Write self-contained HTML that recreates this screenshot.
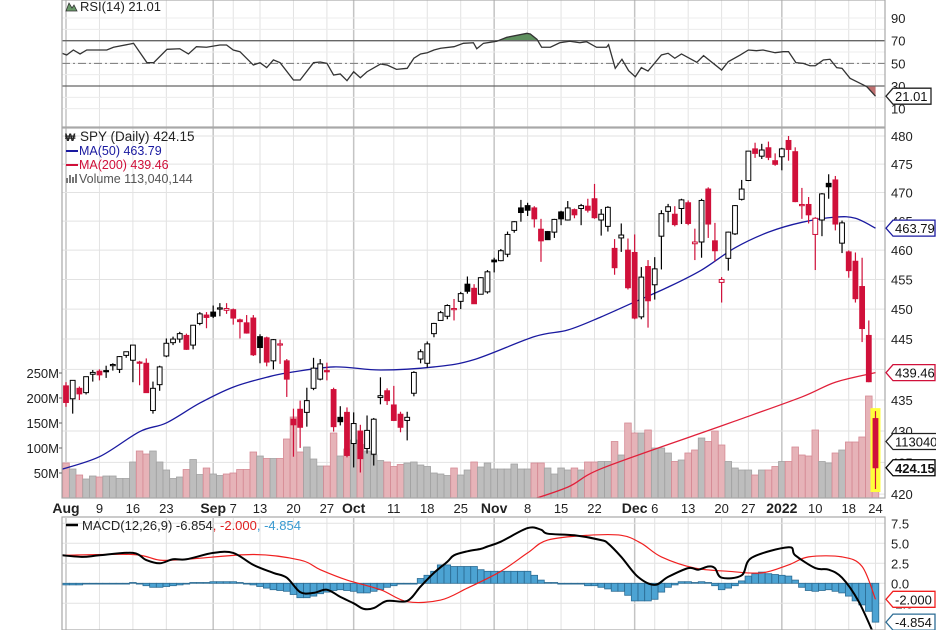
<!DOCTYPE html>
<html><head><meta charset="utf-8"><style>
html,body{margin:0;padding:0;background:#fff;}
svg{display:block;font-family:"Liberation Sans",sans-serif;}
</style></head><body>
<svg id="chart" width="936" height="630" viewBox="0 0 936 630" xmlns="http://www.w3.org/2000/svg">
<defs>
<clipPath id="clipMain"><rect x="62" y="128" width="823" height="370"/></clipPath>
<clipPath id="clipMacd"><rect x="62" y="518" width="823" height="112"/></clipPath>
<clipPath id="clipRsi"><rect x="62" y="0" width="823" height="127"/></clipPath>
<clipPath id="clipOB"><rect x="62" y="0" width="823" height="40.7"/></clipPath>
<clipPath id="clipOS"><rect x="62" y="86" width="823" height="41"/></clipPath>
</defs>
<g id="grid"></g>
<g id="vol" clip-path="url(#clipMain)"></g>
<g id="ma" clip-path="url(#clipMain)"></g>
<g id="candles" clip-path="url(#clipMain)"></g>
<g id="rsi"></g>
<g id="macd"></g>
<g id="axes"></g>
<g id="tags"></g>
<g id="legend">
<text x="80" y="11" font-size="13" fill="#222">RSI(14) 21.01</text>
<path d="M66 11 L69 3 L72 8 L74 5 L77 11 Z" fill="#6a9a6a" stroke="#333" stroke-width="0.8"/>
<text x="80" y="141" font-size="13.5" fill="#222">SPY (Daily) 424.15</text>
<text x="65" y="141" font-size="11" font-weight="bold" fill="#222">₩</text>
<line x1="66" y1="151" x2="78" y2="151" stroke="#1a1aa0" stroke-width="2"/>
<text x="79" y="155" font-size="12.5" fill="#1a1aa0">MA(50) 463.79</text>
<line x1="66" y1="165" x2="78" y2="165" stroke="#d0103a" stroke-width="2"/>
<text x="79" y="169" font-size="12.5" fill="#d0103a">MA(200) 439.46</text>
<text x="79" y="183" font-size="12.5" fill="#555">Volume 113,040,144</text>
<path d="M66 183 v-5 h2 v5 M69 183 v-8 h2 v8 M72 183 v-6 h2 v6 M75 183 v-9 h2 v9" fill="#777"/>
<line x1="66" y1="525" x2="78" y2="525" stroke="#000" stroke-width="2.5"/>
<text x="82" y="530" font-size="13" fill="#222">MACD(12,26,9) -6.854<tspan fill="#e02020">, -2.000</tspan><tspan fill="#3a9ad0">, -4.854</tspan></text>
</g>
</svg>
<script>
// ---------- DATA ----------
const opens=[437.3,435.2,436.9,436.2,439.2,439.7,439.8,440.8,440.0,442.3,441.5,441.2,441.0,433.3,437.5,442.2,444.4,445.0,445.6,444.0,447.6,449.0,449.5,450.2,449.8,449.9,448.2,447.7,448.5,445.4,445.2,441.4,444.2,441.4,431.9,433.5,433.0,436.9,438.4,439.8,436.7,432.2,433.0,428.0,430.0,427.2,426.3,435.4,436.5,434.2,432.7,431.7,436.1,441.7,441.0,445.9,448.1,448.8,450.1,451.3,454.2,453.5,452.5,452.9,458.3,458.2,459.3,463.4,467.3,467.7,467.3,463.6,463.2,463.1,466.6,465.2,467.0,467.2,467.6,468.9,465.2,464.1,460.3,462.1,460.0,459.6,448.7,457.2,454.1,462.4,466.7,466.2,467.2,468.2,461.1,461.4,470.6,461.6,454.5,458.6,462.8,468.8,472.1,477.7,476.4,477.9,475.6,476.3,479.2,477.2,467.9,467.9,462.7,465.2,471.6,472.2,461.2,459.7,458.1,453.8,445.6,432.0];
const highs=[437.9,438.2,437.2,438.8,439.9,440.0,440.6,441.0,442.2,442.9,444.0,441.4,441.8,438.0,440.6,445.1,445.4,446.2,445.9,447.3,449.5,449.5,450.6,451.0,451.0,450.1,448.4,449.0,449.0,445.8,445.4,445.0,444.9,441.7,433.6,434.9,437.0,441.9,441.7,441.1,437.0,434.0,433.8,433.0,431.0,432.5,432.1,438.7,436.9,437.3,433.1,433.1,439.7,443.3,444.6,447.7,449.7,450.8,451.7,452.9,455.5,454.2,455.4,456.6,458.7,460.2,463.2,465.0,468.7,468.2,467.6,465.4,463.3,465.4,466.8,468.5,467.2,468.0,468.9,471.5,467.1,467.6,461.9,464.6,462.0,462.7,457.1,458.3,458.8,466.9,468.0,467.6,468.9,468.6,463.7,468.9,470.9,464.7,455.4,463.2,467.8,472.2,477.3,478.8,478.6,479.0,476.9,477.9,480.0,477.98,470.8,469.2,465.7,469.9,473.2,472.9,465.1,459.96,459.6,458.7,448.1,433.2];
const lows=[433.9,432.8,435.0,435.9,438.0,438.2,438.6,439.8,439.4,441.9,437.9,437.4,436.2,432.8,436.5,442.0,444.0,444.4,443.2,443.3,447.3,446.8,448.5,448.8,449.2,447.4,445.1,445.9,442.2,441.0,440.5,440.0,440.9,435.5,425.9,427.3,430.7,436.6,438.2,438.2,429.9,430.9,425.8,424.2,423.4,426.4,424.5,434.3,434.2,431.6,429.8,428.5,435.6,441.0,440.3,445.3,448.1,448.3,448.1,450.0,452.6,450.9,452.5,452.6,456.2,458.1,458.8,463.0,464.9,465.9,463.9,458.0,461.8,462.1,464.3,465.1,465.5,464.3,466.5,465.4,462.5,463.2,455.8,459.7,453.3,448.3,448.3,446.9,451.6,456.7,464.8,464.1,464.5,464.3,458.3,458.7,462.1,458.1,451.1,456.5,462.6,468.6,472.0,476.1,475.9,475.7,474.7,473.9,475.6,468.3,465.4,464.6,456.6,462.4,468.9,463.4,459.5,455.3,451.1,444.5,437.9,420.8];
const closes=[434.6,438.2,436.0,438.8,439.5,439.1,439.7,440.8,442.1,442.9,444.0,441.0,436.2,436.9,440.4,444.3,445.0,445.9,443.3,447.3,449.2,448.6,448.8,450.2,450.1,448.5,447.9,446.0,442.4,443.6,441.2,444.9,444.2,438.4,431.0,430.6,434.9,440.2,440.9,439.6,430.7,431.5,426.1,431.2,425.6,430.1,431.9,435.7,434.9,431.7,430.6,432.2,439.5,442.9,444.2,447.6,449.4,450.6,450.1,452.6,453.0,450.9,455.3,456.3,458.0,459.9,462.7,464.9,466.5,466.9,465.4,461.6,461.8,465.3,465.4,467.3,466.1,467.7,466.9,465.6,466.2,467.4,457.0,462.6,453.6,448.5,455.4,451.4,456.8,466.3,467.5,464.4,468.7,464.6,461.4,468.6,464.5,459.9,455.0,463.1,467.7,470.6,477.3,476.9,477.5,476.2,474.96,477.7,477.6,468.4,467.9,466.1,465.5,469.75,471.0,464.5,464.7,456.5,451.75,446.75,437.98,424.15];
const volumes=[70,58,46,38,44,42,44,44,39,39,72,94,88,94,72,56,39,42,57,77,47,60,48,45,48,50,57,57,92,84,79,79,79,118,162,92,102,78,64,64,130,84,98,116,107,94,86,75,72,63,67,70,72,66,63,50,48,45,60,46,56,72,62,70,58,58,58,68,58,58,70,70,60,48,60,56,60,56,72,72,73,73,113,86,150,130,130,136,100,100,90,73,76,90,96,120,113,134,106,73,60,56,56,46,56,56,63,73,73,102,86,84,136,73,70,90,96,112,112,122,204,113];
const ma50Idx=[-1,5,11,15,20,25,30,33,40,47,55,61,70,75,80,85,90,95,100,105,110,115,118,121];
const ma50Val=[423.8,425.9,429.9,431.3,434.5,437.1,438.7,439.4,440.4,439.9,440.4,441.6,445.4,446.5,448.7,451.2,453.7,456.6,460.4,463.1,464.8,465.7,465.5,463.79];
const ma200Idx=[68,75,80,95,100,110,115,121];
const ma200Val=[418.6,421.1,424.0,429.7,431.6,435.5,437.9,439.46];
const rsiIdx=[-0.6,0.1,1.1,2.1,3.1,6.1,7.1,10.1,12.1,13.1,15.1,17,18.3,19.5,21,23,24,25,26,28,29,30,31,32,34,35,37,38,39,40,41,42,43,44,45,47,48,49.4,51,52,53,54,55,56,58,59.4,60.9,61.4,62.4,64.4,65.9,68.9,69.4,70.4,71.1,72.4,73.8,75.3,76.8,77.8,79.3,80.8,81.1,82.1,83.1,84.1,85.1,86,87,89,90,91,92,94.3,95.3,98,99,100.8,102,103.2,104.2,106,107.2,108,109.1,110.2,111.2,112,113.2,114.2,115.2,116,117.2,118.7,119.7,121];
const rsiVal=[58.9,57.4,61.8,58.3,61.8,61.8,64.2,67.7,50.6,50.6,62.4,62.9,58.3,64.7,64.2,66.2,66.2,61.8,60.3,48.5,50.6,46.2,53,50.6,35.3,35.3,50.6,51.2,50,39.7,40.6,34.7,42.6,37.3,42.6,49.4,48.5,44.7,45.6,54.5,58.3,59.4,61.8,63.3,64.7,67.7,68.2,62.9,67.7,69.5,73,76.5,75.9,71.2,64.2,64.2,68.2,69.5,68.2,69.1,64.2,64.2,66.5,45.6,53.6,43.5,38.2,46.2,43.2,57.4,58.9,54.5,58.3,50.9,56.8,44.1,51.5,57.4,61.8,61.2,61.8,59.4,60.3,60.3,50.6,50,47.9,47.9,53,53.6,46.2,45.6,36.8,32.4,29.4,21.01];
const macdIdx=[-0.6,2.5,5,10,12,14,16,18,22,25,28,31,33,35,37,39,41,43,44.5,46,48,51,53,55,57,58,60,62,63,65,69,71,72,76,80,81,83,85.5,88,90,93,94.5,96,97,98,101,102.5,108,109,112,114,116,118.5,121];
const macdVal=[3.5,3.3,3.5,3.8,2.9,2.5,3.0,3.0,3.8,3.8,2.3,1.3,0.7,-1.1,-1.2,-0.8,-1.7,-2.5,-3.2,-3.1,-2.2,-2.2,-0.4,1.3,2.7,3.5,4.0,4.3,4.6,5.2,6.9,6.7,6.2,6.0,5.4,5.0,3.3,0.8,-0.2,0.8,1.9,1.7,2.1,1.9,0.7,1.0,3.2,4.5,3.5,1.9,1.7,0.7,-2.3,-6.854];
const sigIdx=[-0.6,10,14,18,28,35,38,42,47,51,56,60,65,69,72,78,83,86,89,94,99,104,108,111,116,119,121];
const sigVal=[3.5,3.6,2.9,3.0,3.6,2.9,1.7,0.4,-0.8,-2.3,-2.1,-0.6,1.5,3.8,5.4,6.0,6.0,5.0,3.3,1.9,1.5,1.3,2.3,3.3,3.3,2.1,-2.0];
const histVal=[-0.2,-0.2,-0.2,-0.1,-0.1,-0.1,-0.1,0,0,0,0.1,-0.1,-0.3,-0.5,-0.5,-0.4,-0.3,-0.2,-0.1,0.1,0.1,0.1,0.2,0.2,0.2,0.2,0.1,0,-0.2,-0.4,-0.6,-0.8,-0.9,-1.0,-1.4,-1.8,-1.8,-1.6,-1.3,-1.1,-0.9,-0.8,-0.9,-1.0,-1.2,-1.2,-1.0,-0.8,-0.5,-0.3,-0.1,0,0,0.6,1.0,1.5,2.3,2.3,2.1,2.1,2.1,2.1,1.7,1.5,1.5,1.5,1.5,1.5,1.5,1.5,1.0,0.4,0.1,0.1,0,0,-0.1,-0.1,-0.3,-0.3,-0.5,-0.7,-1.0,-1.0,-1.5,-2.2,-2.2,-2.2,-2.0,-1.1,-0.5,-0.2,0.2,0.2,0.1,0.2,0.1,-0.3,-0.8,-0.6,-0.3,0.3,0.9,1.2,1.4,1.2,1.1,1.0,0.9,0.4,-0.5,-0.9,-1.0,-0.9,-0.8,-1.0,-1.2,-1.6,-2.2,-2.7,-3.5,-4.854];
const tickIdx=[0,5,10,15,22,25,29,34,39,43,49,54,59,64,69,74,79,85,88,93,98,102,107,112,117,121];
const tickLbl=["Aug","9","16","23","Sep","7","13","20","27","Oct","11","18","25","Nov","8","15","22","Dec","6","13","20","27","2022","10","18","24"];
const tickBold=[1,0,0,0,1,0,0,0,0,1,0,0,0,1,0,0,0,1,0,0,0,0,1,0,0,0];
const priceTicks=[420,425,430,435,440,445,450,455,460,465,470,475,480];
const volTicks=[50,100,150,200,250];
const rsiTicks=[10,30,50,70,90];
const macdTicks=[-2.5,0,2.5,5,7.5];
const macdTickLbl=["-2.5","0.0","2.5","5.0","7.5"];

// ---------- SCALES ----------
const X0=62,X1=885;
const xOf=i=>66+i*6.69;
const yP=p=>136+Math.log(480/p)*2682;
const yV=v=>498-v*0.5;
const yR=r=>40.7+(70-r)*1.1325;
const yM=m=>583.3-m*8;
const NS="http://www.w3.org/2000/svg";
function mk(tag,attrs,parent){const e=document.createElementNS(NS,tag);for(const k in attrs)e.setAttribute(k,attrs[k]);parent.appendChild(e);return e;}
const G=id=>document.getElementById(id);
const RED="#d0103a";
// smooth path (Catmull-Rom) through given pixel points
function smooth(pts){
  let d='M'+pts[0][0]+' '+pts[0][1];
  for(let i=0;i<pts.length-1;i++){
    const p0=pts[i-1]||pts[i],p1=pts[i],p2=pts[i+1],p3=pts[i+2]||p2;
    const c1x=p1[0]+(p2[0]-p0[0])/6,c1y=p1[1]+(p2[1]-p0[1])/6;
    const c2x=p2[0]-(p3[0]-p1[0])/6,c2y=p2[1]-(p3[1]-p1[1])/6;
    d+=` C${c1x} ${c1y} ${c2x} ${c2y} ${p2[0]} ${p2[1]}`;
  }
  return d;
}

// ---------- GRID ----------
const grid=G('grid');
[[0,127],[128,498],[518,630]].forEach(([a,b])=>{
  tickIdx.forEach((ti,k)=>{
    const l=mk('line',{x1:xOf(ti),x2:xOf(ti),y1:a,y2:b,stroke:tickBold[k]?'#c4c4c4':'#e2e2e2','stroke-width':tickBold[k]?1.5:1},grid);
    
    
  });
});
priceTicks.forEach(p=>{const l=mk('line',{x1:X0,x2:X1,y1:yP(p),y2:yP(p),stroke:'#e2e2e2'},grid);
  });
for(let r=10;r<=90;r+=10){const l=mk('line',{x1:X0,x2:X1,y1:yR(r),y2:yR(r),stroke:'#ececec'},grid);
  }
macdTicks.forEach(m=>{const l=mk('line',{x1:X0,x2:X1,y1:yM(m),y2:yM(m),stroke:'#e2e2e2'},grid);
  });

// ---------- VOLUME ----------
const vol=G('vol');
volumes.forEach((v,i)=>{
  const down=i===0?true:closes[i]<closes[i-1];
  const r=mk('rect',{x:xOf(i)-3.3,y:yV(v),width:6.6,height:498-yV(v),fill:down?'#e6b3b8':'#bdbdbd',stroke:down?'#d58a94':'#a2a2a2','stroke-width':0.8},vol);
  
  
});

// ---------- MOVING AVERAGES ----------
const ma=G('ma');
const p50=mk('path',{d:smooth(ma50Idx.map((d,k)=>[xOf(d),yP(ma50Val[k])])),fill:'none',stroke:'#1a1aa0','stroke-width':1.3},ma);

const p200=mk('path',{d:smooth(ma200Idx.map((d,k)=>[xOf(d),yP(ma200Val[k])])),fill:'none',stroke:'#e0203a','stroke-width':1.3},ma);


// ---------- CANDLES ----------
const cg=G('candles');
const last=closes.length-1;
const hl=mk('rect',{x:xOf(last)-5,y:yP(highs[last])-3,width:10,height:yP(lows[last])-yP(highs[last])+6,fill:'#ffff3a'},cg);

closes.forEach((c,i)=>{
  const o=opens[i],h=highs[i],l=lows[i];
  const down=i===0?true:c<closes[i-1];
  const col=down?RED:'#000';
  const x=xOf(i);
  const g=mk('g',{},cg);
  
  
  mk('line',{x1:x,x2:x,y1:yP(h),y2:yP(l),stroke:col,'stroke-width':1.2},g);
  const top=yP(Math.max(o,c)),bot=yP(Math.min(o,c));
  mk('rect',{x:x-2.4,y:top,width:4.8,height:Math.max(bot-top,1.2),fill:c<o?col:'#fff',stroke:col,'stroke-width':1},g);
});

// ---------- RSI ----------
const rg=G('rsi');
const rpts=rsiIdx.map((d,k)=>xOf(d)+','+yR(rsiVal[k]));
const ob=mk('polygon',{points:xOf(rsiIdx[0])+','+yR(70)+' '+rpts.join(' ')+' '+xOf(rsiIdx[rsiIdx.length-1])+','+yR(70),fill:'#5e8f5e','clip-path':'url(#clipOB)'},rg);

const os=mk('polygon',{points:xOf(rsiIdx[0])+','+yR(30)+' '+rpts.join(' ')+' '+xOf(rsiIdx[rsiIdx.length-1])+','+yR(30),fill:'#c07070','clip-path':'url(#clipOS)'},rg);

const l70=mk('line',{x1:X0,x2:X1,y1:yR(70),y2:yR(70),stroke:'#666','stroke-width':1.3},rg);

const l30=mk('line',{x1:X0,x2:X1,y1:yR(30),y2:yR(30),stroke:'#666','stroke-width':1.3},rg);

const l50=mk('line',{x1:X0,x2:X1,y1:yR(50),y2:yR(50),stroke:'#777','stroke-width':1,'stroke-dasharray':'8 3 2 3'},rg);

const rl=mk('polyline',{points:rpts.join(' '),fill:'none',stroke:'#333','stroke-width':1.3,'clip-path':'url(#clipRsi)'},rg);


// ---------- MACD ----------
const mg=G('macd');
const hg=mk('g',{'clip-path':'url(#clipMacd)'},mg);

histVal.forEach((v,i)=>{
  const y0=yM(0),y1=yM(v);
  const r=mk('rect',{x:xOf(i)-3.3,y:Math.min(y0,y1),width:6.6,height:Math.max(Math.abs(y1-y0),0.8),fill:'#4ca3d3',stroke:'#2c6c94','stroke-width':0.8},hg);
  
  
});
const sl=mk('path',{d:smooth(sigIdx.map((d,k)=>[xOf(d),yM(sigVal[k])])),fill:'none',stroke:'#f02020','stroke-width':1.2,'clip-path':'url(#clipMacd)'},mg);

const ml=mk('path',{d:smooth(macdIdx.map((d,k)=>[xOf(d),yM(macdVal[k])])),fill:'none',stroke:'#000','stroke-width':2,'clip-path':'url(#clipMacd)'},mg);


// ---------- AXES ----------
const ax=G('axes');
[[0,127],[128,498],[517,630]].forEach(([a,b])=>{
  mk('rect',{x:X0,y:a,width:X1-X0,height:b-a,fill:'none',stroke:'#a8a8a8','stroke-width':1.2},ax);
});
priceTicks.forEach(p=>{const t=mk('text',{x:891,y:yP(p)+5,'font-size':13,fill:'#222'},ax);t.textContent=p;
  });
volTicks.forEach(v=>{const t=mk('text',{x:59,y:yV(v)+5,'font-size':13,fill:'#222','text-anchor':'end'},ax);t.textContent=v+'M';
  
  mk('line',{x1:59,x2:62,y1:yV(v),y2:yV(v),stroke:'#666'},ax);});
rsiTicks.forEach(r=>{const t=mk('text',{x:891,y:yR(r)+5,'font-size':13,fill:'#222'},ax);t.textContent=r;
  });
macdTicks.forEach((m,k)=>{const t=mk('text',{x:891,y:yM(m)+5,'font-size':13,fill:'#222'},ax);t.textContent=macdTickLbl[k];
  });
tickIdx.forEach((ti,k)=>{
  const t=mk('text',{x:xOf(ti),y:513,'font-size':tickBold[k]?14:13,'font-weight':tickBold[k]?'bold':'normal',fill:'#222','text-anchor':'middle'},ax);
  t.textContent=tickLbl[k];
  
  
});

// ---------- VALUE TAGS ----------
const tg=G('tags');
function tag(y,txt,col,bold,w,name){
  const g=mk('g',{},tg);
  
  
  mk('path',{d:`M${X1+1} ${y} L${X1+8} ${y-8} H${X1+8+w} V${y+8} H${X1+8} Z`,fill:'#fff',stroke:col,'stroke-width':1.3},g);
  const t=mk('text',{x:X1+10,y:y+5,'font-size':13,'font-weight':bold?'bold':'normal',fill:'#111'},g);
  t.textContent=txt;
}
tag(yR(21.01),'21.01','#222',false,38,'rsi-value-tag');
tag(yP(463.79),'463.79','#1a1aa0',false,42,'ma50-value-tag');
tag(yP(439.46),'439.46',RED,false,42,'ma200-value-tag');
tag(yV(113),'113040','#222',false,44,'volume-value-tag');
tag(yP(424.15),'424.15','#000',true,42,'price-value-tag');
tag(yM(-2.0),'-2.000','#f02020',false,42,'signal-value-tag');
tag(yM(-4.854),'-4.854','#2c6c94',false,42,'histogram-value-tag');
</script>
</body></html>
